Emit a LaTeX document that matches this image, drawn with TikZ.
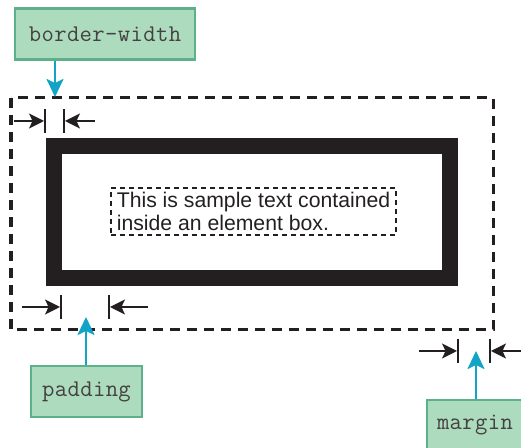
\documentclass[tikz,border=0pt]{standalone}
\usepackage{xcolor}
\usepackage{fontspec}
\setmainfont{Liberation Sans}
\setmonofont{Latin Modern Mono}[LetterSpace=1.5]
\usepackage{tikz}
\usetikzlibrary{arrows.meta}

\definecolor{labelfill}{HTML}{ADDBBD}
\definecolor{labeldraw}{HTML}{5DB18A}
\definecolor{pointer}{HTML}{12A4C6}
\definecolor{ink}{HTML}{231F20}

\begin{document}
\begin{tikzpicture}[x=0.5pt, y=-0.5pt,
		label box/.style={draw=labeldraw, fill=labelfill, line width=1.2pt, minimum height=25.5pt, inner sep=0pt, text=ink!85, font=\ttfamily\fontsize{12}{13}\selectfont},
		pointer/.style={draw=pointer, line width=1.3pt, -{Stealth[length=9pt, width=8.5pt, inset=2pt]}},
		dim/.style={draw=ink, line width=0.9pt, -{Stealth[length=7.5pt, width=7.5pt, inset=1.8pt]}},
		bar/.style={draw=ink, line width=1pt}]
		
		\useasboundingbox (0,0) rectangle (521,448);
		
		% margin edge, border and content box
		\draw[ink, line width=1.5pt, dash pattern=on 5pt off 3.5pt] (11,98) rectangle (493,330);
		\draw[ink, line width=8pt] (54,146) rectangle (450,278);
		\node[draw=ink, line width=1pt, dash pattern=on 2.5pt off 2pt, align=left, inner xsep=3pt, inner ysep=2pt, text=ink, font=\fontsize{10.6}{11.5}\selectfont] (content) at (253.5,211.5) {This is sample text contained\\inside an element box.};
		
		\node[label box, minimum width=90pt] (bw) at (105,34) {border-width};
		\node[label box, minimum width=55.5pt] (pad) at (86.5,391.5) {padding};
		\node[label box, minimum width=48pt] (mar) at (475,425.5) {margin};
		
		\coordinate (bw tip) at (55,97);
		\coordinate (pad tip) at (86,317);
		\coordinate (mar tip) at (476,351);
		
		\draw[pointer] (bw tip |- bw.south) -- (bw tip);
		\draw[pointer] (pad tip |- pad.north) -- (pad tip);
		\draw[pointer] (mar tip |- mar.north) -- (mar tip);
		
		% dimension marks: y / left bar / right bar / arrow starts
		\foreach \y/\a/\b/\from/\to in {121/45/64/14/95, 307/61/109/22/148, 351/458/490/419/523} {
			\draw[bar] (\a,\y-12) -- (\a,\y+12);
			\draw[bar] (\b,\y-12) -- (\b,\y+12);
			\draw[dim] (\from,\y) -- (\a-1,\y);
			\draw[dim] (\to,\y) -- (\b+1,\y);
		}
	\end{tikzpicture}
\end{document}
